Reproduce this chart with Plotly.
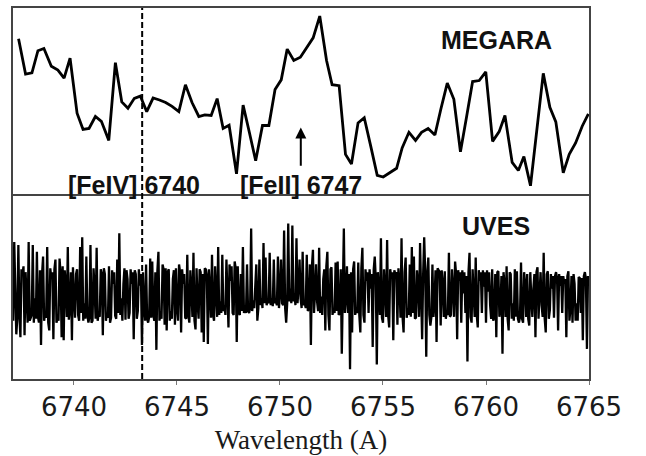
import plotly.graph_objects as go

# ---------------- data ----------------
megara_wl = [6737.31, 6737.65, 6737.96, 6738.25, 6738.54, 6738.90, 6739.22, 6739.52, 6739.81, 6740.15,
             6740.44, 6740.73, 6741.04, 6741.33, 6741.69, 6742.01, 6742.32, 6742.62, 6742.93, 6743.22,
             6743.53, 6743.84, 6744.15, 6744.45, 6744.76, 6745.09, 6745.41, 6745.73, 6746.06, 6746.35,
             6746.66, 6746.95, 6747.24, 6747.53, 6747.89, 6748.21, 6748.52, 6748.82, 6749.15, 6749.46,
             6749.76, 6750.06, 6750.35, 6750.67, 6750.99, 6751.29, 6751.61, 6751.93, 6752.26, 6752.53,
             6752.87, 6753.18, 6753.47, 6753.79, 6754.09, 6754.41, 6754.72, 6755.01, 6755.33, 6755.66,
             6755.93, 6756.26, 6756.58, 6756.87, 6757.19, 6757.52, 6757.81, 6758.12, 6758.44, 6758.76,
             6759.06, 6759.35, 6759.67, 6759.99, 6760.32, 6760.64, 6760.92, 6761.27, 6761.57, 6761.84,
             6762.16, 6762.47, 6762.78, 6763.10, 6763.39, 6763.75, 6764.04, 6764.35, 6764.67, 6764.97]
megara_flux = [1.623, 1.260, 1.273, 1.500, 1.523, 1.340, 1.300, 1.217, 1.423, 0.857,
               0.690, 0.700, 0.823, 0.773, 0.577, 1.377, 0.973, 0.907, 1.010, 1.033,
               0.873, 1.013, 0.993, 0.967, 0.927, 0.873, 1.150, 0.967, 0.823, 0.840,
               0.833, 1.007, 0.700, 0.733, 0.233, 0.940, 0.653, 0.367, 0.730, 0.730,
               1.100, 1.200, 1.517, 1.400, 1.433, 1.533, 1.633, 1.857, 1.400, 1.150,
               1.140, 0.433, 0.333, 0.757, 0.810, 0.513, 0.217, 0.200, 0.243, 0.290,
               0.500, 0.660, 0.577, 0.660, 0.700, 0.633, 0.900, 1.167, 1.000, 0.460,
               0.823, 1.183, 1.193, 1.283, 0.567, 0.667, 0.833, 0.350, 0.267, 0.410,
               0.110, 0.683, 1.267, 0.917, 0.767, 0.243, 0.433, 0.550, 0.723, 0.850]

# UVES samples read on the whole-0.1 A grid
uves_wl = [6737.0, 6737.1, 6737.2, 6737.3, 6737.4, 6737.5, 6737.6, 6737.7, 6737.8, 6737.9,
           6738.0, 6738.1, 6738.2, 6738.3, 6738.4, 6738.5, 6738.6, 6738.7, 6738.8, 6738.9,
           6739.0, 6739.1, 6739.2, 6739.3, 6739.4, 6739.5, 6739.6, 6739.7, 6739.8, 6739.9,
           6740.0, 6740.1, 6740.2, 6740.3, 6740.4, 6740.5, 6740.6, 6740.7, 6740.8, 6740.9,
           6741.0, 6741.1, 6741.2, 6741.3, 6741.4, 6741.5, 6741.6, 6741.7, 6741.8, 6741.9,
           6742.0, 6742.1, 6742.2, 6742.3, 6742.4, 6742.5, 6742.6, 6742.7, 6742.8, 6742.9,
           6743.0, 6743.1, 6743.2, 6743.3, 6743.4, 6743.5, 6743.6, 6743.7, 6743.8, 6743.9,
           6744.0, 6744.1, 6744.2, 6744.3, 6744.4, 6744.5, 6744.6, 6744.7, 6744.8, 6744.9,
           6745.0, 6745.1, 6745.2, 6745.3, 6745.4, 6745.5, 6745.6, 6745.7, 6745.8, 6745.9,
           6746.0, 6746.1, 6746.2, 6746.3, 6746.4, 6746.5, 6746.6, 6746.7, 6746.8, 6746.9,
           6747.0, 6747.1, 6747.2, 6747.3, 6747.4, 6747.5, 6747.6, 6747.7, 6747.8, 6747.9,
           6748.0, 6748.1, 6748.2, 6748.3, 6748.4, 6748.5, 6748.6, 6748.7, 6748.8, 6748.9,
           6749.0, 6749.1, 6749.2, 6749.3, 6749.4, 6749.5, 6749.6, 6749.7, 6749.8, 6749.9,
           6750.0, 6750.1, 6750.2, 6750.3, 6750.4, 6750.5, 6750.6, 6750.7, 6750.8, 6750.9,
           6751.0, 6751.1, 6751.2, 6751.3, 6751.4, 6751.5, 6751.6, 6751.7, 6751.8, 6751.9,
           6752.0, 6752.1, 6752.2, 6752.3, 6752.4, 6752.5, 6752.6, 6752.7, 6752.8, 6752.9,
           6753.0, 6753.1, 6753.2, 6753.3, 6753.4, 6753.5, 6753.6, 6753.7, 6753.8, 6753.9,
           6754.0, 6754.1, 6754.2, 6754.3, 6754.4, 6754.5, 6754.6, 6754.7, 6754.8, 6754.9,
           6755.0, 6755.1, 6755.2, 6755.3, 6755.4, 6755.5, 6755.6, 6755.7, 6755.8, 6755.9,
           6756.0, 6756.1, 6756.2, 6756.3, 6756.4, 6756.5, 6756.6, 6756.7, 6756.8, 6756.9,
           6757.0, 6757.1, 6757.2, 6757.3, 6757.4, 6757.5, 6757.6, 6757.7, 6757.8, 6757.9,
           6758.0, 6758.1, 6758.2, 6758.3, 6758.4, 6758.5, 6758.6, 6758.7, 6758.8, 6758.9,
           6759.0, 6759.1, 6759.2, 6759.3, 6759.4, 6759.5, 6759.6, 6759.7, 6759.8, 6759.9,
           6760.0, 6760.1, 6760.2, 6760.3, 6760.4, 6760.5, 6760.6, 6760.7, 6760.8, 6760.9,
           6761.0, 6761.1, 6761.2, 6761.3, 6761.4, 6761.5, 6761.6, 6761.7, 6761.8, 6761.9,
           6762.0, 6762.1, 6762.2, 6762.3, 6762.4, 6762.5, 6762.6, 6762.7, 6762.8, 6762.9,
           6763.0, 6763.1, 6763.2, 6763.3, 6763.4, 6763.5, 6763.6, 6763.7, 6763.8, 6763.9,
           6764.0, 6764.1, 6764.2, 6764.3, 6764.4, 6764.5, 6764.6, 6764.7, 6764.8, 6764.9,
           6765.0]
uves_flux = [1.10, 1.53, 0.58, 1.50, 0.55, 1.20, 0.57, 0.85, 1.53, 0.75,
             1.50, 0.95, 1.43, 0.70, 0.47, 1.38, 0.80, 1.48, 0.62, 1.15,
             0.53, 1.35, 0.75, 1.36, 0.55, 0.52, 1.10, 1.48, 0.85, 0.52,
             0.95, 1.20, 0.78, 1.48, 1.58, 0.90, 1.38, 0.70, 1.50, 0.72,
             1.05, 1.47, 0.80, 1.25, 0.57, 1.20, 0.80, 1.28, 0.75, 1.10,
             0.77, 1.35, 1.62, 0.95, 1.10, 0.73, 1.15, 0.80, 1.10, 0.53,
             1.20, 0.82, 1.08, 0.47, 0.85, 1.30, 0.70, 1.36, 1.33, 0.72,
             0.42, 1.43, 0.82, 1.30, 0.68, 0.62, 1.25, 0.82, 1.15, 0.68,
             0.85, 1.30, 0.60, 1.10, 0.75, 1.40, 0.70, 1.05, 1.42, 0.63,
             0.90, 1.25, 0.60, 0.50, 1.25, 0.48, 1.05, 1.40, 0.72, 1.00,
             1.48, 0.92, 1.40, 0.88, 1.35, 0.65, 1.13, 0.80, 1.33, 0.50,
             0.80, 1.20, 1.48, 0.85, 1.30, 0.80, 1.67, 0.93, 1.20, 0.72,
             1.35, 0.95, 1.52, 1.37, 0.92, 1.42, 0.95, 1.35, 0.92, 1.38,
             1.00, 0.90, 1.65, 0.70, 1.72, 1.05, 1.70, 1.00, 1.57, 1.05,
             0.95, 1.43, 0.90, 1.40, 0.85, 0.47, 1.45, 1.00, 0.92, 1.47,
             0.97, 1.15, 0.62, 1.43, 0.62, 1.27, 0.85, 1.32, 1.33, 0.80,
             0.38, 1.67, 0.95, 0.80, 0.22, 0.60, 1.33, 0.85, 1.32, 0.60,
             1.47, 0.70, 1.13, 0.80, 1.05, 0.45, 1.38, 0.27, 1.00, 1.57,
             0.70, 1.05, 1.55, 0.65, 1.17, 0.52, 1.20, 0.68, 1.10, 1.57,
             0.60, 1.37, 0.85, 1.30, 1.48, 1.38, 0.75, 1.10, 1.52, 0.53,
             1.58, 0.35, 1.37, 0.67, 1.30, 0.90, 0.50, 1.23, 0.67, 1.10,
             1.23, 0.83, 1.42, 0.78, 1.05, 1.33, 0.53, 1.13, 0.70, 1.00,
             0.80, 0.30, 1.42, 0.70, 1.00, 1.37, 0.65, 1.13, 0.80, 1.07,
             0.70, 1.02, 0.88, 1.25, 0.75, 0.55, 1.23, 0.85, 0.38, 1.10,
             1.28, 0.62, 1.20, 0.90, 1.25, 1.23, 0.70, 1.32, 0.70, 1.10,
             1.20, 0.67, 0.95, 1.05, 0.55, 1.27, 1.00, 0.88, 1.42, 0.60,
             1.23, 0.83, 1.05, 0.75, 1.22, 0.62, 1.08, 0.80, 1.10, 0.55,
             1.23, 0.85, 0.70, 1.10, 0.90, 1.17, 0.80, 0.52, 1.22, 0.43,
             1.10]

# UVES samples read at the half-steps (x.x5 A)
uves_wl_mid = [6737.05, 6737.15, 6737.25, 6737.35, 6737.45, 6737.55, 6737.65, 6737.75, 6737.85, 6737.95,
               6738.05, 6738.15, 6738.25, 6738.35, 6738.45, 6738.55, 6738.65, 6738.75, 6738.85, 6738.95,
               6739.05, 6739.15, 6739.25, 6739.35, 6739.45, 6739.55, 6739.65, 6739.75, 6739.85, 6739.95,
               6740.05, 6740.15, 6740.25, 6740.35, 6740.45, 6740.55, 6740.65, 6740.75, 6740.85, 6740.95,
               6741.05, 6741.15, 6741.25, 6741.35, 6741.45, 6741.55, 6741.65, 6741.75, 6741.85, 6741.95,
               6742.05, 6742.15, 6742.25, 6742.35, 6742.45, 6742.55, 6742.65, 6742.75, 6742.85, 6742.95,
               6743.05, 6743.15, 6743.25, 6743.35, 6743.45, 6743.55, 6743.65, 6743.75, 6743.85, 6743.95,
               6744.05, 6744.15, 6744.25, 6744.35, 6744.45, 6744.55, 6744.65, 6744.75, 6744.85, 6744.95,
               6745.05, 6745.15, 6745.25, 6745.35, 6745.45, 6745.55, 6745.65, 6745.75, 6745.85, 6745.95,
               6746.05, 6746.15, 6746.25, 6746.35, 6746.45, 6746.55, 6746.65, 6746.75, 6746.85, 6746.95,
               6747.05, 6747.15, 6747.25, 6747.35, 6747.45, 6747.55, 6747.65, 6747.75, 6747.85, 6747.95,
               6748.05, 6748.15, 6748.25, 6748.35, 6748.45, 6748.55, 6748.65, 6748.75, 6748.85, 6748.95,
               6749.05, 6749.15, 6749.25, 6749.35, 6749.45, 6749.55, 6749.65, 6749.75, 6749.85, 6749.95,
               6750.05, 6750.15, 6750.25, 6750.35, 6750.45, 6750.55, 6750.65, 6750.75, 6750.85, 6750.95,
               6751.05, 6751.15, 6751.25, 6751.35, 6751.45, 6751.55, 6751.65, 6751.75, 6751.85, 6751.95,
               6752.05, 6752.15, 6752.25, 6752.35, 6752.45, 6752.55, 6752.65, 6752.75, 6752.85, 6752.95,
               6753.05, 6753.15, 6753.25, 6753.35, 6753.45, 6753.55, 6753.65, 6753.75, 6753.85, 6753.95,
               6754.05, 6754.15, 6754.25, 6754.35, 6754.45, 6754.55, 6754.65, 6754.75, 6754.85, 6754.95,
               6755.05, 6755.15, 6755.25, 6755.35, 6755.45, 6755.55, 6755.65, 6755.75, 6755.85, 6755.95,
               6756.05, 6756.15, 6756.25, 6756.35, 6756.45, 6756.55, 6756.65, 6756.75, 6756.85, 6756.95,
               6757.05, 6757.15, 6757.25, 6757.35, 6757.45, 6757.55, 6757.65, 6757.75, 6757.85, 6757.95,
               6758.05, 6758.15, 6758.25, 6758.35, 6758.45, 6758.55, 6758.65, 6758.75, 6758.85, 6758.95,
               6759.05, 6759.15, 6759.25, 6759.35, 6759.45, 6759.55, 6759.65, 6759.75, 6759.85, 6759.95,
               6760.05, 6760.15, 6760.25, 6760.35, 6760.45, 6760.55, 6760.65, 6760.75, 6760.85, 6760.95,
               6761.05, 6761.15, 6761.25, 6761.35, 6761.45, 6761.55, 6761.65, 6761.75, 6761.85, 6761.95,
               6762.05, 6762.15, 6762.25, 6762.35, 6762.45, 6762.55, 6762.65, 6762.75, 6762.85, 6762.95,
               6763.05, 6763.15, 6763.25, 6763.35, 6763.45, 6763.55, 6763.65, 6763.75, 6763.85, 6763.95,
               6764.05, 6764.15, 6764.25, 6764.35, 6764.45, 6764.55, 6764.65, 6764.75, 6764.85, 6764.95]
uves_flux_mid = [0.72, 0.80, 0.75, 0.78, 1.25, 1.28, 1.22, 0.70, 0.72, 0.78,
                 0.70, 0.74, 0.76, 1.24, 1.20, 0.72, 0.75, 0.70, 1.26, 1.22,
                 1.25, 0.70, 0.72, 1.20, 1.28, 1.24, 0.76, 0.73, 1.22, 1.27,
                 0.75, 1.25, 0.72, 0.80, 0.72, 0.74, 0.78, 0.76, 0.70, 1.26,
                 0.74, 0.72, 0.76, 1.20, 1.26, 0.72, 0.75, 0.70, 1.24, 1.22,
                 0.74, 0.80, 0.78, 0.72, 1.26, 1.24, 0.74, 1.25, 1.22, 1.24,
                 0.74, 1.25, 1.20, 1.22, 0.72, 0.74, 0.76, 0.75, 0.78, 1.22,
                 1.24, 0.72, 0.74, 1.25, 1.26, 1.22, 0.72, 0.74, 1.24, 1.26,
                 0.72, 1.22, 1.25, 1.20, 0.74, 0.78, 1.24, 0.76, 0.72, 1.26,
                 0.74, 1.22, 1.20, 1.26, 1.18, 1.25, 0.75, 0.78, 1.28, 0.76,
                 0.78, 0.80, 0.82, 0.78, 0.80, 1.30, 1.28, 0.78, 1.26, 1.28,
                 0.78, 0.82, 0.80, 0.80, 0.82, 0.85, 0.82, 0.85, 1.30, 0.85,
                 0.88, 0.85, 0.90, 0.88, 0.90, 0.88, 0.87, 0.90, 0.88, 0.85,
                 1.35, 0.88, 0.85, 0.90, 0.92, 0.90, 0.92, 0.88, 0.90, 1.35,
                 0.85, 0.88, 0.85, 0.82, 1.30, 1.28, 0.80, 1.30, 0.82, 0.80,
                 0.78, 1.25, 1.28, 0.78, 1.25, 0.78, 0.80, 0.82, 0.78, 1.25,
                 1.20, 0.80, 1.28, 1.20, 1.22, 1.25, 0.78, 0.80, 0.78, 1.26,
                 0.78, 1.25, 1.22, 1.25, 1.20, 1.25, 1.15, 1.22, 0.78, 0.75,
                 1.25, 0.76, 0.78, 1.25, 1.22, 1.24, 1.22, 1.26, 0.75, 0.76,
                 1.22, 0.75, 0.78, 0.76, 0.80, 0.74, 1.24, 0.76, 0.78, 1.20,
                 1.22, 1.20, 0.78, 0.76, 0.76, 1.24, 1.26, 1.22, 1.24, 0.76,
                 0.74, 0.78, 0.76, 1.25, 0.76, 1.20, 1.24, 1.22, 1.24, 1.22,
                 1.18, 1.22, 0.76, 1.25, 0.76, 0.78, 1.24, 1.22, 1.24, 1.22,
                 1.24, 1.22, 0.74, 0.72, 1.20, 1.22, 0.76, 1.18, 1.22, 0.76,
                 0.74, 1.22, 0.74, 0.72, 0.76, 0.74, 0.76, 0.74, 1.22, 0.76,
                 0.74, 1.22, 0.76, 1.20, 1.22, 0.74, 1.22, 0.76, 0.74, 1.20,
                 0.74, 1.20, 1.18, 1.18, 1.16, 1.20, 1.18, 1.18, 1.15, 1.18,
                 0.72, 1.18, 1.20, 0.72, 0.72, 1.16, 1.16, 1.18, 1.15, 1.18]

tick_vals = [6740, 6745, 6750, 6755, 6760, 6765]
tick_text = ["6740", "6745", "6750", "6755", "6760", "6765"]
x_range = [6737.04, 6765.0]
top_range = [0.03, 1.94]
bottom_range = [0.12, 2.03]

feiv_wl = 6743.31      # dashed marker
feii_wl = 6751.01      # arrow marker
labels = [
    # text, x, yaxis, y
    ("[FeIV] 6740", 6742.90, "y2", 0.12),
    ("[FeII] 6747", 6751.01, "y2", 0.12),
    ("MEGARA", 6760.52, "y2", 1.61),
    ("UVES", 6760.48, "y", 1.70),
]

# merge the two UVES sample sets in wavelength order
uves_pairs = sorted(zip(uves_wl + uves_wl_mid, uves_flux + uves_flux_mid))
uves_x = [p[0] for p in uves_pairs]
uves_y = [p[1] for p in uves_pairs]

# ---------------- figure ----------------
frame = "#444444"
fig = go.Figure()
fig.add_trace(go.Scatter(x=uves_x, y=uves_y, mode="lines", xaxis="x", yaxis="y",
                         line=dict(color="black", width=2.3), showlegend=False, hoverinfo="skip"))
fig.add_trace(go.Scatter(x=megara_wl, y=megara_flux, mode="lines", xaxis="x2", yaxis="y2",
                         line=dict(color="black", width=2.8), showlegend=False, hoverinfo="skip"))

fig.update_layout(
    width=646, height=456,
    margin=dict(l=13, r=57, t=6, b=68),
    paper_bgcolor="white", plot_bgcolor="white",
    xaxis=dict(domain=[0, 1], anchor="y", range=x_range, tickvals=tick_vals, ticktext=tick_text,
               ticks="outside", ticklen=4, tickwidth=1.2, tickcolor="#777",
               showline=True, linecolor=frame, linewidth=1.5, mirror=False,
               showgrid=False, zeroline=False,
               tickfont=dict(family="DejaVu Sans, sans-serif", size=26, color="#1a1a1a"),
               title=dict(text="Wavelength (A)", standoff=9,
                          font=dict(family="Liberation Serif, Times New Roman, serif", size=27, color="#1a1a1a"))),
    yaxis=dict(domain=[0, 0.5], anchor="x", range=bottom_range, showticklabels=False, ticks="",
               showline=True, linecolor=frame, linewidth=1.5, mirror=True,
               showgrid=False, zeroline=False),
    xaxis2=dict(domain=[0, 1], anchor="y2", matches="x", range=x_range, showticklabels=False, ticks="",
                showline=True, linecolor=frame, linewidth=1.5, mirror=True,
                showgrid=False, zeroline=False),
    yaxis2=dict(domain=[0.5, 1], anchor="x2", range=top_range, showticklabels=False, ticks="",
                showline=True, linecolor=frame, linewidth=1.5, mirror=True,
                showgrid=False, zeroline=False),
)

# dashed vertical marker across both panels
fig.add_shape(type="line", xref="x", yref="paper", x0=feiv_wl, x1=feiv_wl, y0=0, y1=1,
              line=dict(color="black", width=2, dash="6px,3px"))

# arrow marker in the MEGARA panel
fig.add_annotation(x=feii_wl, y=0.71, xref="x2", yref="y2", ax=feii_wl, ay=0.30,
                   axref="x2", ayref="y2", text="", showarrow=True,
                   arrowhead=2, arrowsize=1.1, arrowwidth=2, arrowcolor="black")

for text, x, yax, y in labels:
    fig.add_annotation(x=x, y=y, xref="x2" if yax == "y2" else "x", yref=yax,
                       text="<b>" + text + "</b>", showarrow=False,
                       xanchor="center", yanchor="middle",
                       font=dict(family="Liberation Sans, Arial, sans-serif", size=25, color="#111"))

fig.write_html("out.html")
